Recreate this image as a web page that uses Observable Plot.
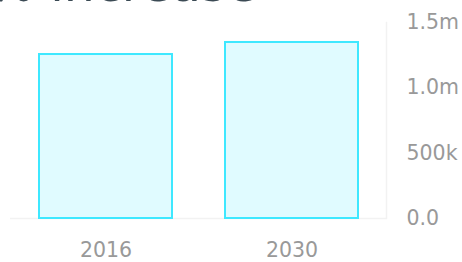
<!DOCTYPE html>
<html>
<head>
<meta charset="utf-8">
<script src="https://cdn.jsdelivr.net/npm/d3@7"></script>
<script src="https://cdn.jsdelivr.net/npm/@observablehq/plot@0.6"></script>
<style>
  html, body { margin: 0; padding: 0; background: #fff; overflow: hidden; }
  #wrap { position: relative; width: 462px; height: 262px; overflow: hidden; }
  #title { position: absolute; left: -12px; top: -40px; font-family: "DejaVu Sans", sans-serif; font-size: 49px; color: #3b4a54; white-space: nowrap; line-height: 1; }
  svg { font-family: "DejaVu Sans", sans-serif; }
</style>
</head>
<body>
<div id="wrap"><div id="chart"></div><div id="title">% increase</div></div>
<script>
const years = ["2016", "2030"];
const values = [1255000, 1347000];
const yTicks = [0, 500000, 1000000, 1500000];
const yTickLabels = ["0.0", "500k", "1.0m", "1.5m"];

const data = years.map((y, i) => ({year: y, value: values[i]}));

const chart = Plot.plot({
  width: 462,
  height: 262,
  marginLeft: 10,
  marginRight: 76,
  marginTop: 22,
  marginBottom: 44,
  style: {fontSize: "20.5px", color: "#999", background: "#fff"},
  x: {domain: years, paddingInner: 0.287, paddingOuter: 0.15, label: null},
  y: {domain: [0, 1500000], label: null},
  marks: [
    Plot.ruleY([0], {stroke: "#f2f2f2", strokeWidth: 1.5}),
    Plot.frame({anchor: "right", stroke: "#f2f2f2", strokeWidth: 1.5}),
    Plot.barY(data, {x: "year", y: "value", fill: "#e0fbff", stroke: "#3ee8ff", strokeWidth: 2}),
    Plot.axisY({anchor: "right", ticks: yTicks, tickFormat: (d) => yTickLabels[yTicks.indexOf(d)], tickSize: 0, tickPadding: 20, label: null, fill: "#999"}),
    Plot.axisX({anchor: "bottom", tickSize: 0, tickPadding: 24, label: null, fill: "#999"})
  ]
});
document.getElementById("chart").appendChild(chart);
</script>
</body>
</html>
